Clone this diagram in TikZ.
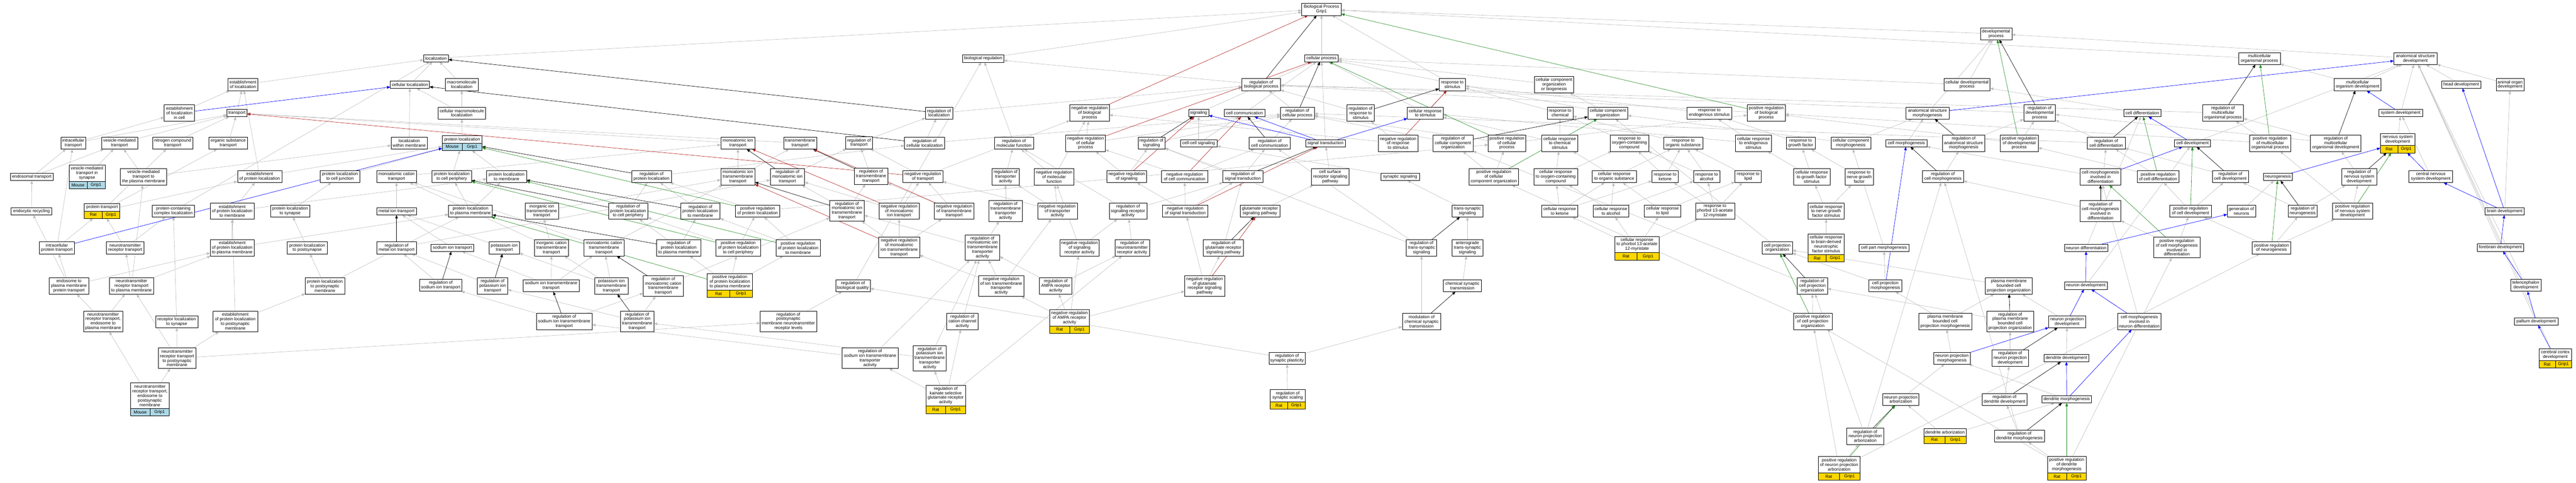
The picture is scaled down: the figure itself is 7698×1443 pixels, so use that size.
\documentclass[tikz,border=0pt]{standalone}
\usepackage{fontspec}
\setmainfont{Liberation Sans}
\usetikzlibrary{arrows.meta,fit,calc}
\definecolor{colorisa}  {RGB}{190,190,190}
\definecolor{colorneg}  {RGB}{178, 34, 34}
\definecolor{colorpos}  {RGB}{ 34,139, 34}
\definecolor{colorpart} {RGB}{  0,  0,255}
\definecolor{colorrat}  {RGB}{255,215,  0}
\definecolor{colormouse}{RGB}{173,216,230}
\pgfdeclarelayer{background}
\pgfsetlayers{background,main}

% species / gene row under an annotated term
\newcommand{\generow}[3]{%
    \path let \p1=(#1-t.south west), \p2=(#1-t.south east) in
        node[tagcell,fill=#3,anchor=north west,minimum width={(\x2-\x1)/2}] (#1-sp) at (\p1) {#2}
        node[tagcell,fill=#3,anchor=north east,minimum width={(\x2-\x1)/2}] (#1-gn) at (\p2) {Grip1};
    \node[fit=(#1-t)(#1-sp)(#1-gn),inner sep=0pt] (#1) {};
}

\begin{document}
\begin{tikzpicture}[
    x=1pt, y=-1pt,
    font={\fontsize{12.9}{13.6}\selectfont},
    term/.style={draw,line width=0.9pt,fill=white,align=center,inner xsep=4pt,inner ysep=2pt,outer sep=0pt},
    ln1/.style={term,minimum height=22},
    ln2/.style={term,minimum height=36},
    ln3/.style={term,minimum height=49},
    ln4/.style={term,minimum height=62},
    ln5/.style={term,minimum height=76},
    tagcell/.style={draw,line width=0.9pt,inner sep=0pt,outer sep=0pt,minimum height=22},
    isa/.style={draw=colorisa,line width=1pt,-{Triangle[length=10pt,width=8pt]}},
    reg/.style={isa,draw=black},
    negreg/.style={isa,draw=colorneg},
    posreg/.style={isa,draw=colorpos},
    partof/.style={isa,draw=colorpart}
]

    \useasboundingbox (0, 0) rectangle (7698, 1443);

    \node[ln2,minimum width=118] (bp) at (3949, 28) {Biological Process\\Grip1};
    \node[ln2,minimum width=94] (devproc) at (5965, 101) {developmental\\process};

    \node[ln1,minimum width=74] (loc) at (1303, 174) {localization};
    \node[ln1,minimum width=124] (bioreg) at (2938, 175) {biological regulation};
    \node[ln1,minimum width=100] (cellproc) at (3949, 174) {cellular process};
    \node[ln2,minimum width=124] (mcop) at (6752, 175) {multicellular\\organismal process};
    \node[ln2,minimum width=129] (asdev) at (7218, 175) {anatomical structure\\development};

    \node[ln2,minimum width=90] (estloc) at (726, 253) {establishment\\of localization};
    \node[ln1,minimum width=117] (cellloc) at (1225, 253) {cellular localization};
    \node[ln2,minimum width=99] (macroloc) at (1380, 253) {macromolecule\\localization};
    \node[ln2,minimum width=115] (regbp) at (3769, 253) {regulation of\\biological process};
    \node[ln2,minimum width=79] (respstim) at (4340, 253) {response to\\stimulus};
    \node[ln3,minimum width=118] (ccob) at (4644, 253) {cellular component\\organization\\or biogenesis};
    \node[ln2,minimum width=138] (celldevproc) at (5878, 253) {cellular developmental\\process};
    \node[ln2,minimum width=141] (mcodev) at (7045, 253) {multicellular\\organism development};
    \node[ln1,minimum width=116] (headdev) at (7355, 253) {head development};
    \node[ln2,minimum width=84] (organdev) at (7501, 253) {animal organ\\development};

    \node[ln3,minimum width=91] (estloccell) at (536, 338) {establishment\\of localization\\in cell};
    \node[ln1,minimum width=60] (transport) at (708, 338) {transport};
    \node[ln2,minimum width=143] (cmacroloc) at (1380, 338) {cellular macromolecule\\localization};
    \node[ln2,minimum width=81] (regloc) at (2806, 338) {regulation of\\localization};
    \node[ln3,minimum width=118] (negregbp) at (3256, 338) {negative regulation\\of biological\\process};
    \node[ln1,minimum width=61] (signaling) at (3582, 338) {signaling};
    \node[ln1,minimum width=122] (cellcomm) at (3719, 338) {cell communication};
    \node[ln2,minimum width=101] (regcp) at (3877, 338) {regulation of\\cellular process};
    \node[ln3,minimum width=81] (regresp) at (4066, 338) {regulation of\\response to\\stimulus};
    \node[ln2,minimum width=107] (cellresp) at (4259, 338) {cellular response\\to stimulus};
    \node[ln2,minimum width=77] (respchem) at (4662, 338) {response to\\chemical};
    \node[ln2,minimum width=119] (cco) at (4805, 338) {cellular component\\organization};
    \node[ln2,minimum width=133] (respendo) at (5108, 338) {response to\\endogenous stimulus};
    \node[ln3,minimum width=114] (posregbp) at (5278, 338) {positive regulation\\of biological\\process};
    \node[ln2,minimum width=128] (asmorph) at (5760, 338) {anatomical structure\\morphogenesis};
    \node[ln3,minimum width=95] (regdev) at (6095, 338) {regulation of\\developmental\\process};
    \node[ln1,minimum width=110] (celldiff) at (6402, 338) {cell differentiation};
    \node[ln3,minimum width=123] (regmcop) at (6643, 338) {regulation of\\multicellular\\organismal process};
    \node[ln1,minimum width=131] (sysdev) at (7174, 338) {system development};

    \node[ln2,minimum width=75] (intratr) at (219, 428) {intracellular\\transport};
    \node[ln2,minimum width=108] (vesictr) at (357, 428) {vesicle-mediated\\transport};
    \node[ln2,minimum width=119] (nitrotr) at (516, 428) {nitrogen compound\\transport};
    \node[ln2,minimum width=116] (orgtr) at (682, 428) {organic substance\\transport};
    \node[ln2,minimum width=108] (locmem) at (1223, 428) {localization\\within membrane};
    \node[ln1,minimum width=119] (protloc-t) at (1381, 417) {protein localization};
    \generow{protloc}{Mouse}{colormouse}
    \node[ln2,minimum width=102] (monoiontr) at (2205, 428) {monoatomic ion\\transport};
    \node[ln2,minimum width=99] (tmtr) at (2391, 428) {transmembrane\\transport};
    \node[ln2,minimum width=80] (regtr) at (2567, 427) {regulation of\\transport};
    \node[ln2,minimum width=120] (regcellloc) at (2763, 428) {regulation of\\cellular localization};
    \node[ln2,minimum width=117] (regmf) at (3030, 428) {regulation of\\molecular function};
    \node[ln3,minimum width=118] (negregcp) at (3244, 428) {negative regulation\\of cellular\\process};
    \node[ln2,minimum width=80] (regsig) at (3441, 428) {regulation of\\signaling};
    \node[ln1,minimum width=110] (ccsig) at (3582, 428) {cell-cell signaling};
    \node[ln2,minimum width=122] (regcc) at (3794, 428) {regulation of\\cell communication};
    \node[ln1,minimum width=118] (sigtrans) at (3961, 428) {signal transduction};
    \node[ln3,minimum width=119] (negregresp) at (4178, 428) {negative regulation\\of response\\to stimulus};
    \node[ln3,minimum width=119] (regcco) at (4342, 428) {regulation of\\cellular component\\organization};
    \node[ln3,minimum width=111] (posregcp) at (4503, 428) {positive regulation\\of cellular\\process};
    \node[ln3,minimum width=107] (cellrespchem) at (4661, 428) {cellular response\\to chemical\\stimulus};
    \node[ln3,minimum width=116] (respoxy) at (4869, 428) {response to\\oxygen-containing\\compound};
    \node[ln2,minimum width=116] (resporg) at (5030, 428) {response to\\organic substance};
    \node[ln3,minimum width=108] (cellrespendo) at (5240, 428) {cellular response\\to endogenous\\stimulus};
    \node[ln2,minimum width=86] (respgf) at (5381, 428) {response to\\growth factor};
    \node[ln2,minimum width=119] (ccmorph) at (5531, 428) {cellular component\\morphogenesis};
    \node[ln1,minimum width=122] (cellmorph) at (5697, 428) {cell morphogenesis};
    \node[ln3,minimum width=127] (regasmorph) at (5868, 428) {regulation of\\anatomical structure\\morphogenesis};
    \node[ln3,minimum width=114] (posregdev) at (6034, 428) {positive regulation\\of developmental\\process};
    \node[ln2,minimum width=113] (regcelldiff) at (6294, 428) {regulation of\\cell differentiation};
    \node[ln1,minimum width=108] (celldev) at (6552, 428) {cell development};
    \node[ln3,minimum width=123] (posregmcop) at (6784, 428) {positive regulation\\of multicellular\\organismal process};
    \node[ln3,minimum width=151] (regmcodev) at (6980, 428) {regulation of\\multicellular\\organismal development};
    \node[ln2,minimum width=103] (nsdev-t) at (7165, 417) {nervous system\\development};
    \generow{nsdev}{Rat}{colorrat}

    \node[ln1,minimum width=128] (endotr) at (95, 529) {endosomal transport};
    \node[ln3,minimum width=108] (vtsyn-t) at (260, 518) {vesicle-mediated\\transport in\\synapse};
    \generow{vtsyn}{Mouse}{colormouse}
    \node[ln3,minimum width=139] (vtpm) at (429, 529) {vesicle-mediated\\transport to\\the plasma membrane};
    \node[ln2,minimum width=133] (estprotloc) at (776, 528) {establishment\\of protein localization};
    \node[ln2,minimum width=118] (plcj) at (1016, 528) {protein localization\\to cell junction};
    \node[ln2,minimum width=119] (catr) at (1185, 528) {monoatomic cation\\transport};
    \node[ln2,minimum width=118] (plcp) at (1350, 528) {protein localization\\to cell periphery};
    \node[ln2,minimum width=119] (plmem) at (1514, 528) {protein localization\\to membrane};
    \node[ln2,minimum width=119] (regprotloc) at (1947, 528) {regulation of\\protein localization};
    \node[ln3,minimum width=102] (monoiontmtr) at (2205, 529) {monoatomic ion\\transmembrane\\transport};
    \node[ln3,minimum width=103] (regmonoiontr) at (2353, 529) {regulation of\\monoatomic ion\\transport};
    \node[ln3,minimum width=100] (regtmtr) at (2603, 527) {regulation of\\transmembrane\\transport};
    \node[ln2,minimum width=119] (negregtr) at (2758, 528) {negative regulation\\of transport};
    \node[ln3,minimum width=81] (regtra) at (3005, 529) {regulation of\\transporter\\activity};
    \node[ln3,minimum width=119] (negregmf) at (3150, 529) {negative regulation\\of molecular\\function};
    \node[ln2,minimum width=119] (negregsig) at (3367, 528) {negative regulation\\of signaling};
    \node[ln2,minimum width=138] (negregcc) at (3540, 528) {negative regulation\\of cell communication};
    \node[ln2,minimum width=119] (regst) at (3714, 528) {regulation of\\signal transduction};
    \node[ln3,minimum width=112] (csrsp) at (3975, 529) {cell surface\\receptor signaling\\pathway};
    \node[ln1,minimum width=116] (synsig) at (4184, 529) {synaptic signaling};
    \node[ln3,minimum width=148] (posregcco) at (4464, 529) {positive regulation\\of cellular\\component organization};
    \node[ln3,minimum width=131] (crspoxy) at (4649, 529) {cellular response\\to oxygen-containing\\compound};
    \node[ln2,minimum width=131] (crsporg) at (4824, 528) {cellular response\\to organic substance};
    \node[ln2,minimum width=79] (respket) at (4976, 528) {response to\\ketone};
    \node[ln2,minimum width=79] (respalc) at (5100, 528) {response to\\alcohol};
    \node[ln2,minimum width=79] (resplip) at (5224, 528) {response to\\lipid};
    \node[ln3,minimum width=109] (crspgf) at (5414, 529) {cellular response\\to growth factor\\stimulus};
    \node[ln3,minimum width=84] (respngf) at (5556, 529) {response to\\nerve growth\\factor};
    \node[ln2,minimum width=123] (regcellmorph) at (5806, 528) {regulation of\\cell morphogenesis};
    \node[ln3,minimum width=121] (cmid) at (6277, 529) {cell morphogenesis\\involved in\\differentiation};
    \node[ln2,minimum width=126] (posregcelldiff) at (6449, 528) {positive regulation\\of cell differentiation};
    \node[ln2,minimum width=107] (regcelldev) at (6665, 528) {regulation of\\cell development};
    \node[ln1,minimum width=87] (neurogen) at (6807, 529) {neurogenesis};
    \node[ln3,minimum width=104] (regnsdev) at (7050, 529) {regulation of\\nervous system\\development};
    \node[ln2,minimum width=131] (cnsdev) at (7264, 528) {central nervous\\system development};

    \node[ln1,minimum width=122] (endorec) at (94, 632) {endocytic recycling};
    \node[ln1,minimum width=106] (prottr-t) at (305, 620) {protein transport};
    \generow{prottr}{Rat}{colorrat}
    \node[ln2,minimum width=127] (pccloc) at (518, 631) {protein-containing\\complex localization};
    \node[ln3,minimum width=132] (estplmem) at (694, 631) {establishment\\of protein localization\\to membrane};
    \node[ln2,minimum width=118] (plsyn) at (867, 631) {protein localization\\to synapse};
    \node[ln1,minimum width=119] (metaltr) at (1185, 632) {metal ion transport};
    \node[ln2,minimum width=131] (plpm) at (1406, 631) {protein localization\\to plasma membrane};
    \node[ln3,minimum width=100] (inoiontmtr) at (1619, 631) {inorganic ion\\transmembrane\\transport};
    \node[ln3,minimum width=118] (regplcp) at (1877, 631) {regulation of\\protein localization\\to cell periphery};
    \node[ln3,minimum width=118] (regplmem) at (2093, 631) {regulation of\\protein localization\\to membrane};
    \node[ln2,minimum width=133] (posregprotloc) at (2264, 631) {positive regulation\\of protein localization};
    \node[ln4,minimum width=103] (regmonoiontmtr) at (2531, 630) {regulation of\\monoatomic ion\\transmembrane\\transport};
    \node[ln3,minimum width=119] (negregmonoiontr) at (2687, 631) {negative regulation\\of monoatomic\\ion transport};
    \node[ln3,minimum width=118] (negregtmtr) at (2851, 631) {negative regulation\\of transmembrane\\transport};
    \node[ln4,minimum width=100] (regtmtra) at (3005, 631) {regulation of\\transmembrane\\transporter\\activity};
    \node[ln3,minimum width=119] (negregtra) at (3160, 631) {negative regulation\\of transporter\\activity};
    \node[ln3,minimum width=113] (regsra) at (3371, 631) {regulation of\\signaling receptor\\activity};
    \node[ln2,minimum width=135] (negregst) at (3542, 631) {negative regulation\\of signal transduction};
    \node[ln2,minimum width=118] (glursp) at (3765, 631) {glutamate receptor\\signaling pathway};
    \node[ln2,minimum width=93] (tssig) at (4385, 631) {trans-synaptic\\signaling};
    \node[ln2,minimum width=108] (crspket) at (4661, 631) {cellular response\\to ketone};
    \node[ln2,minimum width=107] (crspalc) at (4814, 631) {cellular response\\to alcohol};
    \node[ln2,minimum width=108] (crsplip) at (4968, 631) {cellular response\\to lipid};
    \node[ln3,minimum width=117] (resppma) at (5125, 631) {response to\\phorbol 13-acetate\\12-myristate};
    \node[ln3,minimum width=108] (crspngf) at (5457, 631) {cellular response\\to nerve growth\\factor stimulus};
    \node[ln4,minimum width=121] (regcmid) at (6277, 631) {regulation of\\cell morphogenesis\\involved in\\differentiation};
    \node[ln2,minimum width=125] (posregcelldev) at (6546, 631) {positive regulation\\of cell development};
    \node[ln2,minimum width=85] (genneur) at (6698, 631) {generation of\\neurons};
    \node[ln2,minimum width=86] (regneurogen) at (6881, 631) {regulation of\\neurogenesis};
    \node[ln3,minimum width=119] (posregnsdev) at (7030, 631) {positive regulation\\of nervous system\\development};
    \node[ln1,minimum width=117] (braindev) at (7485, 632) {brain development};

    \node[ln2,minimum width=104] (intraprottr) at (170, 741) {intracellular\\protein transport};
    \node[ln2,minimum width=112] (ntrtr) at (374, 741) {neurotransmitter\\receptor transport};
    \node[ln3,minimum width=132] (estplpm) at (694, 741) {establishment\\of protein localization\\to plasma membrane};
    \node[ln2,minimum width=119] (plpsyn) at (918, 741) {protein localization\\to postsynapse};
    \node[ln2,minimum width=119] (regmetaltr) at (1185, 741) {regulation of\\metal ion transport};
    \node[ln1,minimum width=128] (natr) at (1352, 741) {sodium ion transport};
    \node[ln2,minimum width=90] (ktr) at (1507, 741) {potassium ion\\transport};
    \node[ln3,minimum width=101] (inocattmtr) at (1648, 741) {inorganic cation\\transmembrane\\transport};
    \node[ln3,minimum width=120] (cattmtr) at (1805, 741) {monoatomic cation\\transmembrane\\transport};
    \node[ln3,minimum width=132] (regplpm) at (2028, 741) {regulation of\\protein localization\\to plasma membrane};
    \node[ln3,minimum width=134] (posregplcp) at (2206, 741) {positive regulation\\of protein localization\\to cell periphery};
    \node[ln3,minimum width=133] (posregplmem) at (2385, 741) {positive regulation\\of protein localization\\to membrane};
    \node[ln4,minimum width=122] (negregmonoiontmtr) at (2687, 740) {negative regulation\\of monoatomic\\ion transmembrane\\transport};
    \node[ln5,minimum width=103] (regmonoiontmtra) at (2936, 740) {regulation of\\monoatomic ion\\transmembrane\\transporter\\activity};
    \node[ln3,minimum width=118] (negregsra) at (3226, 741) {negative regulation\\of signaling\\receptor activity};
    \node[ln3,minimum width=103] (regntra) at (3383, 741) {regulation of\\neurotransmitter\\receptor activity};
    \node[ln3,minimum width=120] (regglursp) at (3656, 741) {regulation of\\glutamate receptor\\signaling pathway};
    \node[ln3,minimum width=91] (regtssig) at (4248, 741) {regulation of\\trans-synaptic\\signaling};
    \node[ln3,minimum width=93] (antssig) at (4385, 741) {anterograde\\trans-synaptic\\signaling};
    \node[ln3,minimum width=132] (crsppma-t) at (4892, 731) {cellular response\\to phorbol 13-acetate\\12-myristate};
    \generow{crsppma}{Rat}{colorrat}
    \node[ln4,minimum width=108] (crspbdnf-t) at (5457, 730) {cellular response\\to brain-derived\\neurotrophic\\factor stimulus};
    \generow{crspbdnf}{Rat}{colorrat}
    \node[ln2,minimum width=91] (cpo) at (5311, 741) {cell projection\\organization};
    \node[ln1,minimum width=148] (cpartmorph) at (5630, 741) {cell part morphogenesis};
    \node[ln1,minimum width=130] (neurdiff) at (6234, 741) {neuron differentiation};
    \node[ln4,minimum width=138] (posregcmid) at (6505, 740) {positive regulation\\of cell morphogenesis\\involved in\\differentiation};
    \node[ln2,minimum width=115] (posregneurogen) at (6788, 741) {positive regulation\\of neurogenesis};
    \node[ln1,minimum width=139] (forebraindev) at (7472, 740) {forebrain development};

    \node[ln3,minimum width=118] (e2pm) at (206, 855) {endosome to\\plasma membrane\\protein transport};
    \node[ln3,minimum width=131] (ntrpm) at (393, 855) {neurotransmitter\\receptor transport\\to plasma membrane};
    \node[ln3,minimum width=118] (plpsm) at (971, 855) {protein localization\\to postsynaptic\\membrane};
    \node[ln2,minimum width=127] (regnatr) at (1317, 853) {regulation of\\sodium ion transport};
    \node[ln3,minimum width=91] (regktr) at (1472, 855) {regulation of\\potassium ion\\transport};
    \node[ln2,minimum width=167] (natmtr) at (1647, 854) {sodium ion transmembrane\\transport};
    \node[ln3,minimum width=99] (ktmtr) at (1827, 855) {potassium ion\\transmembrane\\transport};
    \node[ln4,minimum width=120] (regcattmtr) at (1982, 855) {regulation of\\monoatomic cation\\transmembrane\\transport};
    \node[ln3,minimum width=135] (posregplpm-t) at (2181, 843) {positive regulation\\of protein localization\\to plasma membrane};
    \generow{posregplpm}{Rat}{colorrat}
    \node[ln2,minimum width=103] (regbq) at (2549, 854) {regulation of\\biological quality};
    \node[ln4,minimum width=135] (negregiontmtra) at (2992, 855) {negative regulation\\of ion transmembrane\\transporter\\activity};
    \node[ln3,minimum width=97] (regampa) at (3155, 855) {regulation of\\AMPA receptor\\activity};
    \node[ln4,minimum width=120] (negregglursp) at (3600, 855) {negative regulation\\of glutamate\\receptor signaling\\pathway};
    \node[ln2,minimum width=114] (cst) at (4370, 854) {chemical synaptic\\transmission};
    \node[ln3,minimum width=91] (regcpo) at (5416, 855) {regulation of\\cell projection\\organization};
    \node[ln2,minimum width=99] (cpmorph) at (5634, 854) {cell projection\\morphogenesis};
    \node[ln3,minimum width=140] (pmbcpo) at (6003, 855) {plasma membrane\\bounded cell\\projection organization};
    \node[ln1,minimum width=128] (neurdev) at (6233, 854) {neuron development};
    \node[ln2,minimum width=91] (telendev) at (7548, 853) {telencephalon\\development};

    \node[ln4,minimum width=117] (ntre2pm) at (308, 961) {neurotransmitter\\receptor transport,\\endosome to\\plasma membrane};
    \node[ln2,minimum width=126] (recsyn) at (528, 962) {receptor localization\\to synapse};
    \node[ln4,minimum width=133] (estplpsm) at (703, 961) {establishment\\of protein localization\\to postsynaptic\\membrane};
    \node[ln3,minimum width=167] (regnatmtr) at (1686, 961) {regulation of\\sodium ion transmembrane\\transport};
    \node[ln4,minimum width=100] (regktmtr) at (1904, 961) {regulation of\\potassium ion\\transmembrane\\transport};
    \node[ln4,minimum width=169] (regpsmntr) at (2356, 961) {regulation of\\postsynaptic\\membrane neurotransmitter\\receptor levels};
    \node[ln3,minimum width=94] (regcatchan) at (2876, 961) {regulation of\\cation channel\\activity};
    \node[ln3,minimum width=118] (negregampa-t) at (3196, 950) {negative regulation\\of AMPA receptor\\activity};
    \generow{negregampa}{Rat}{colorrat}
    \node[ln3,minimum width=115] (modcst) at (4248, 961) {modulation of\\chemical synaptic\\transmission};
    \node[ln3,minimum width=115] (posregcpo) at (5417, 961) {positive regulation\\of cell projection\\organization};
    \node[ln3,minimum width=158] (pmbcpmorph) at (5813, 961) {plasma membrane\\bounded cell\\projection morphogenesis};
    \node[ln4,minimum width=139] (regpmbcpo) at (6007, 961) {regulation of\\plasma membrane\\bounded cell\\projection organization};
    \node[ln2,minimum width=110] (neurprojdev) at (6177, 962) {neuron projection\\development};
    \node[ln3,minimum width=130] (cmind) at (6393, 961) {cell morphogenesis\\involved in\\neuron differentiation};
    \node[ln1,minimum width=130] (palliumdev) at (7579, 961) {pallium development};

    \node[ln4,minimum width=112] (ntrpsm) at (529, 1071) {neurotransmitter\\receptor transport\\to postsynaptic\\membrane};
    \node[ln4,minimum width=167] (regnatmtra) at (2600, 1071) {regulation of\\sodium ion transmembrane\\transporter\\activity};
    \node[ln5,minimum width=99] (regktmtra) at (2778, 1071) {regulation of\\potassium ion\\transmembrane\\transporter\\activity};
    \node[ln2,minimum width=108] (regsynplast) at (3846, 1071) {regulation of\\synaptic plasticity};
    \node[ln2,minimum width=109] (neurprojmorph) at (5833, 1071) {neuron projection\\morphogenesis};
    \node[ln3,minimum width=110] (regneurprojdev) at (6007, 1071) {regulation of\\neuron projection\\development};
    \node[ln1,minimum width=133] (dendev) at (6175, 1071) {dendrite development};
    \node[ln2,minimum width=98] (cctxdev-t) at (7636, 1060) {cerebral cortex\\development};
    \generow{cctxdev}{Rat}{colorrat}

    \node[ln5,minimum width=116] (ntre2psm-t) at (448, 1183) {neurotransmitter\\receptor transport,\\endosome to\\postsynaptic\\membrane};
    \generow{ntre2psm}{Mouse}{colormouse}
    \node[ln4,minimum width=119] (regkainate-t) at (2826, 1183) {regulation of\\kainate selective\\glutamate receptor\\activity};
    \generow{regkainate}{Rat}{colorrat}
    \node[ln2,minimum width=104] (regsynscal-t) at (3848, 1183) {regulation of\\synaptic scaling};
    \generow{regsynscal}{Rat}{colorrat}
    \node[ln2,minimum width=109] (neurprojarb) at (5680, 1194) {neuron projection\\arborization};
    \node[ln2,minimum width=134] (regdendev) at (5990, 1194) {regulation of\\dendrite development};
    \node[ln1,minimum width=148] (denmorph) at (6176, 1194) {dendrite morphogenesis};

    \node[ln3,minimum width=110] (regneurprojarb) at (5574, 1304) {regulation of\\neuron projection\\arborization};
    \node[ln1,minimum width=126] (denarb-t) at (5812, 1293) {dendrite arborization};
    \generow{denarb}{Rat}{colorrat}
    \node[ln2,minimum width=149] (regdenmorph) at (6035, 1304) {regulation of\\dendrite morphogenesis};

    \node[ln3,minimum width=124] (posregneurprojarb-t) at (5496, 1389) {positive regulation\\of neuron projection\\arborization};
    \generow{posregneurprojarb}{Rat}{colorrat}
    \node[ln3,minimum width=116] (posregdenmorph-t) at (6176, 1389) {positive regulation\\of dendrite\\morphogenesis};
    \generow{posregdenmorph}{Rat}{colorrat}

    \begin{pgfonlayer}{background}
    \draw[isa] (loc) -- (bp);
    \draw[isa] (cellloc) -- (loc);
    \draw[isa] (cellproc) -- (bp);
    \draw[isa] (bioreg) -- (bp);
    \draw[isa] (devproc) -- (bp);
    \draw[isa] (mcop) -- (bp);
    \draw[isa] (respstim) -- (bp);
    \draw[isa] (ccob) -- (cellproc);
    \draw[isa] (estloc) -- (loc);
    \draw[isa] (macroloc) -- (loc);
    \draw[isa] (regbp) -- (bioreg);
    \draw[isa] (celldevproc) -- (devproc);
    \draw[isa] (celldevproc) -- (cellproc);
    \draw[isa] (mcodev) -- (mcop);
    \draw[isa] (mcodev) -- (asdev);
    \draw[isa] (headdev) -- (asdev);
    \draw[isa] (organdev) -- (asdev);
    \draw[isa] (asdev) -- (devproc);
    \draw[isa] (estloccell) -- (estloc);
    \draw[isa] (transport) -- (estloc);
    \draw[isa] (cmacroloc) -- (macroloc);
    \draw[isa] (cmacroloc) -- (cellloc);
    \draw[isa] (regloc) -- (regbp);
    \draw[isa] (negregbp) -- (regbp);
    \draw[isa] (signaling) -- (cellproc);
    \draw[isa] (cellcomm) -- (cellproc);
    \draw[isa] (regcp) -- (regbp);
    \draw[isa] (regresp) -- (regbp);
    \draw[isa] (cellresp) -- (respstim);
    \draw[isa] (cellresp) -- (cellproc);
    \draw[isa] (respchem) -- (respstim);
    \draw[isa] (cco) -- (ccob);
    \draw[isa] (cco) -- (cellproc);
    \draw[isa] (respendo) -- (respstim);
    \draw[isa] (posregbp) -- (regbp);
    \draw[isa] (asmorph) -- (devproc);
    \draw[isa] (regdev) -- (regbp);
    \draw[isa] (celldiff) -- (celldevproc);
    \draw[isa] (regmcop) -- (regbp);
    \draw[isa] (sysdev) -- (asdev);
    \draw[isa] (intratr) -- (transport);
    \draw[isa] (intratr) -- (estloccell);
    \draw[isa] (vesictr) -- (transport);
    \draw[isa] (nitrotr) -- (transport);
    \draw[isa] (orgtr) -- (transport);
    \draw[isa] (locmem) -- (cellloc);
    \draw[isa] (protloc) -- (cmacroloc);
    \draw[isa] (monoiontr) -- (transport);
    \draw[isa] (tmtr) -- (transport);
    \draw[isa] (regtr) -- (regloc);
    \draw[isa] (regcellloc) -- (regloc);
    \draw[isa] (regcellloc) -- (regcp);
    \draw[isa] (regmf) -- (bioreg);
    \draw[isa] (negregcp) -- (regcp);
    \draw[isa] (negregcp) -- (negregbp);
    \draw[isa] (regsig) -- (regcp);
    \draw[isa] (ccsig) -- (signaling);
    \draw[isa] (ccsig) -- (cellcomm);
    \draw[isa] (regcc) -- (regcp);
    \draw[isa] (sigtrans) -- (cellproc);
    \draw[isa] (negregresp) -- (regresp);
    \draw[isa] (negregresp) -- (negregbp);
    \draw[isa] (regcco) -- (regcp);
    \draw[isa] (posregcp) -- (regcp);
    \draw[isa] (posregcp) -- (posregbp);
    \draw[isa] (cellrespchem) -- (respchem);
    \draw[isa] (cellrespchem) -- (cellresp);
    \draw[isa] (respoxy) -- (respchem);
    \draw[isa] (resporg) -- (respchem);
    \draw[isa] (cellrespendo) -- (respendo);
    \draw[isa] (cellrespendo) -- (cellresp);
    \draw[isa] (respgf) -- (respendo);
    \draw[isa] (ccmorph) -- (asmorph);
    \draw[isa] (ccmorph) -- (cco);
    \draw[isa] (cellmorph) -- (asmorph);
    \draw[isa] (regasmorph) -- (regdev);
    \draw[isa] (posregdev) -- (regdev);
    \draw[isa] (posregdev) -- (posregbp);
    \draw[isa] (regcelldiff) -- (regdev);
    \draw[isa] (regcelldiff) -- (regcp);
    \draw[isa] (celldev) -- (asdev);
    \draw[isa] (posregmcop) -- (regmcop);
    \draw[isa] (posregmcop) -- (posregbp);
    \draw[isa] (regmcodev) -- (regmcop);
    \draw[isa] (regmcodev) -- (regdev);
    \draw[isa] (nsdev) -- (sysdev);
    \draw[isa] (endotr) -- (intratr);
    \draw[isa] (endotr) -- (vesictr);
    \draw[isa] (vtsyn) -- (vesictr);
    \draw[isa] (vtpm) -- (vesictr);
    \draw[isa] (vtpm) -- (locmem);
    \draw[isa] (estprotloc) -- (estloc);
    \draw[isa] (estprotloc) -- (protloc);
    \draw[isa] (plcj) -- (protloc);
    \draw[isa] (catr) -- (monoiontr);
    \draw[isa] (plcp) -- (protloc);
    \draw[isa] (plmem) -- (protloc);
    \draw[isa] (monoiontmtr) -- (monoiontr);
    \draw[isa] (monoiontmtr) -- (tmtr);
    \draw[isa] (regmonoiontr) -- (regtr);
    \draw[isa] (regtmtr) -- (regtr);
    \draw[isa] (regprotloc) -- (regcellloc);
    \draw[isa] (negregtr) -- (regtr);
    \draw[isa] (negregtr) -- (negregbp);
    \draw[isa] (regtra) -- (regmf);
    \draw[isa] (negregmf) -- (regmf);
    \draw[isa] (negregmf) -- (negregbp);
    \draw[isa] (negregsig) -- (regsig);
    \draw[isa] (negregsig) -- (negregcp);
    \draw[isa] (negregcc) -- (regcc);
    \draw[isa] (negregcc) -- (negregcp);
    \draw[isa] (regst) -- (regcc);
    \draw[isa] (regst) -- (regsig);
    \draw[isa] (csrsp) -- (sigtrans);
    \draw[isa] (synsig) -- (ccsig);
    \draw[isa] (posregcco) -- (regcco);
    \draw[isa] (posregcco) -- (posregcp);
    \draw[isa] (crspoxy) -- (respoxy);
    \draw[isa] (crspoxy) -- (cellrespchem);
    \draw[isa] (crsporg) -- (resporg);
    \draw[isa] (crsporg) -- (cellrespchem);
    \draw[isa] (respket) -- (resporg);
    \draw[isa] (respket) -- (respoxy);
    \draw[isa] (respalc) -- (resporg);
    \draw[isa] (respalc) -- (respoxy);
    \draw[isa] (resplip) -- (resporg);
    \draw[isa] (crspgf) -- (respgf);
    \draw[isa] (crspgf) -- (cellrespendo);
    \draw[isa] (respngf) -- (respgf);
    \draw[isa] (regcellmorph) -- (regasmorph);
    \draw[isa] (cmid) -- (cellmorph);
    \draw[isa] (posregcelldiff) -- (regcelldiff);
    \draw[isa] (posregcelldiff) -- (posregdev);
    \draw[isa] (regcelldev) -- (regcelldiff);
    \draw[isa] (regnsdev) -- (regmcodev);
    \draw[isa] (cnsdev) -- (sysdev);
    \draw[isa] (endorec) -- (endotr);
    \draw[isa] (prottr) -- (nitrotr);
    \draw[isa] (prottr) -- (orgtr);
    \draw[isa] (prottr) -- (estprotloc);
    \draw[isa] (pccloc) -- (loc);
    \draw[isa] (estplmem) -- (estprotloc);
    \draw[isa] (estplmem) -- (plmem);
    \draw[isa] (plsyn) -- (plcj);
    \draw[isa] (metaltr) -- (catr);
    \draw[isa] (plpm) -- (plmem);
    \draw[isa] (plpm) -- (plcp);
    \draw[isa] (inoiontmtr) -- (monoiontmtr);
    \draw[isa] (regplcp) -- (regprotloc);
    \draw[isa] (regplmem) -- (regprotloc);
    \draw[isa] (posregprotloc) -- (regprotloc);
    \draw[isa] (posregprotloc) -- (posregcp);
    \draw[isa] (regmonoiontmtr) -- (regmonoiontr);
    \draw[isa] (regmonoiontmtr) -- (regtmtr);
    \draw[isa] (negregmonoiontr) -- (negregtr);
    \draw[isa] (negregmonoiontr) -- (regmonoiontr);
    \draw[isa] (negregtmtr) -- (negregtr);
    \draw[isa] (negregtmtr) -- (regtmtr);
    \draw[isa] (regtmtra) -- (regtra);
    \draw[isa] (negregtra) -- (regtra);
    \draw[isa] (negregtra) -- (negregmf);
    \draw[isa] (negregtra) -- (negregtr);
    \draw[isa] (regsra) -- (regmf);
    \draw[isa] (regsra) -- (regst);
    \draw[isa] (negregst) -- (regst);
    \draw[isa] (negregst) -- (negregsig);
    \draw[isa] (negregst) -- (negregcc);
    \draw[isa] (glursp) -- (csrsp);
    \draw[isa] (tssig) -- (synsig);
    \draw[isa] (crspket) -- (respket);
    \draw[isa] (crspket) -- (crspoxy);
    \draw[isa] (crspket) -- (crsporg);
    \draw[isa] (crspalc) -- (respalc);
    \draw[isa] (crspalc) -- (crsporg);
    \draw[isa] (crspalc) -- (crspoxy);
    \draw[isa] (crsplip) -- (resplip);
    \draw[isa] (crsplip) -- (crsporg);
    \draw[isa] (resppma) -- (respalc);
    \draw[isa] (resppma) -- (respket);
    \draw[isa] (resppma) -- (resplip);
    \draw[isa] (crspngf) -- (respngf);
    \draw[isa] (crspngf) -- (crspgf);
    \draw[isa] (regcmid) -- (regcellmorph);
    \draw[isa] (regcmid) -- (regcelldiff);
    \draw[isa] (posregcelldev) -- (regcelldev);
    \draw[isa] (posregcelldev) -- (posregcelldiff);
    \draw[isa] (genneur) -- (neurogen);
    \draw[isa] (regneurogen) -- (regnsdev);
    \draw[isa] (regneurogen) -- (regcelldev);
    \draw[isa] (posregnsdev) -- (regnsdev);
    \draw[isa] (posregnsdev) -- (posregmcop);
    \draw[isa] (braindev) -- (organdev);
    \draw[isa] (intraprottr) -- (prottr);
    \draw[isa] (intraprottr) -- (intratr);
    \draw[isa] (ntrtr) -- (prottr);
    \draw[isa] (ntrtr) -- (pccloc);
    \draw[isa] (estplpm) -- (estplmem);
    \draw[isa] (estplpm) -- (plpm);
    \draw[isa] (plpsyn) -- (plsyn);
    \draw[isa] (regmetaltr) -- (regmonoiontr);
    \draw[isa] (natr) -- (metaltr);
    \draw[isa] (ktr) -- (metaltr);
    \draw[isa] (inocattmtr) -- (inoiontmtr);
    \draw[isa] (inocattmtr) -- (catr);
    \draw[isa] (cattmtr) -- (catr);
    \draw[isa] (cattmtr) -- (monoiontmtr);
    \draw[isa] (regplpm) -- (regplcp);
    \draw[isa] (regplpm) -- (regplmem);
    \draw[isa] (posregplcp) -- (regplcp);
    \draw[isa] (posregplcp) -- (posregprotloc);
    \draw[isa] (posregplmem) -- (regplmem);
    \draw[isa] (posregplmem) -- (posregprotloc);
    \draw[isa] (negregmonoiontmtr) -- (negregmonoiontr);
    \draw[isa] (negregmonoiontmtr) -- (negregtmtr);
    \draw[isa] (negregmonoiontmtr) -- (regmonoiontmtr);
    \draw[isa] (regmonoiontmtra) -- (regtmtra);
    \draw[isa] (regmonoiontmtra) -- (regmonoiontmtr);
    \draw[isa] (negregsra) -- (regsra);
    \draw[isa] (negregsra) -- (negregmf);
    \draw[isa] (regntra) -- (regsra);
    \draw[isa] (regglursp) -- (regst);
    \draw[isa] (regtssig) -- (regcc);
    \draw[isa] (regtssig) -- (regsig);
    \draw[isa] (antssig) -- (tssig);
    \draw[isa] (crsppma) -- (resppma);
    \draw[isa] (crsppma) -- (crspket);
    \draw[isa] (crsppma) -- (crspalc);
    \draw[isa] (crsppma) -- (crsplip);
    \draw[isa] (crspbdnf) -- (crspngf);
    \draw[isa] (cpo) -- (cco);
    \draw[isa] (cpartmorph) -- (ccmorph);
    \draw[isa] (neurdiff) -- (celldiff);
    \draw[isa] (posregcmid) -- (regcmid);
    \draw[isa] (posregcmid) -- (posregcelldev);
    \draw[isa] (posregneurogen) -- (regneurogen);
    \draw[isa] (posregneurogen) -- (posregnsdev);
    \draw[isa] (posregneurogen) -- (posregcelldev);
    \draw[isa] (forebraindev) -- (asdev);
    \draw[isa] (e2pm) -- (intraprottr);
    \draw[isa] (e2pm) -- (endorec);
    \draw[isa] (e2pm) -- (estplpm);
    \draw[isa] (ntrpm) -- (ntrtr);
    \draw[isa] (ntrpm) -- (estplpm);
    \draw[isa] (ntrpm) -- (vtpm);
    \draw[isa] (plpsm) -- (plpsyn);
    \draw[isa] (plpsm) -- (plpm);
    \draw[isa] (regnatr) -- (regmetaltr);
    \draw[isa] (regktr) -- (regmetaltr);
    \draw[isa] (natmtr) -- (natr);
    \draw[isa] (natmtr) -- (inocattmtr);
    \draw[isa] (natmtr) -- (cattmtr);
    \draw[isa] (ktmtr) -- (ktr);
    \draw[isa] (ktmtr) -- (cattmtr);
    \draw[isa] (ktmtr) -- (inocattmtr);
    \draw[isa] (regcattmtr) -- (regmonoiontmtr);
    \draw[isa] (posregplpm) -- (regplpm);
    \draw[isa] (posregplpm) -- (posregplcp);
    \draw[isa] (posregplpm) -- (posregplmem);
    \draw[isa] (regbq) -- (bioreg);
    \draw[isa] (negregiontmtra) -- (regmonoiontmtra);
    \draw[isa] (negregiontmtra) -- (negregtra);
    \draw[isa] (negregiontmtra) -- (negregmonoiontmtr);
    \draw[isa] (regampa) -- (regntra);
    \draw[isa] (regampa) -- (regmonoiontmtra);
    \draw[isa] (negregglursp) -- (regglursp);
    \draw[isa] (negregglursp) -- (negregst);
    \draw[isa] (cst) -- (antssig);
    \draw[isa] (regcpo) -- (regcco);
    \draw[isa] (cpmorph) -- (cpartmorph);
    \draw[isa] (cpmorph) -- (cpo);
    \draw[isa] (pmbcpo) -- (cpo);
    \draw[isa] (neurdev) -- (celldev);
    \draw[isa] (telendev) -- (asdev);
    \draw[isa] (ntre2pm) -- (e2pm);
    \draw[isa] (ntre2pm) -- (ntrpm);
    \draw[isa] (recsyn) -- (pccloc);
    \draw[isa] (estplpsm) -- (estplmem);
    \draw[isa] (estplpsm) -- (plpsm);
    \draw[isa] (regnatmtr) -- (regnatr);
    \draw[isa] (regnatmtr) -- (regcattmtr);
    \draw[isa] (regktmtr) -- (regktr);
    \draw[isa] (regktmtr) -- (regcattmtr);
    \draw[isa] (regpsmntr) -- (regbq);
    \draw[isa] (regcatchan) -- (regmonoiontmtra);
    \draw[isa] (negregampa) -- (regampa);
    \draw[isa] (negregampa) -- (negregiontmtra);
    \draw[isa] (negregampa) -- (negregsra);
    \draw[isa] (negregampa) -- (negregglursp);
    \draw[isa] (modcst) -- (regtssig);
    \draw[isa] (posregcpo) -- (regcpo);
    \draw[isa] (posregcpo) -- (posregcco);
    \draw[isa] (pmbcpmorph) -- (cpmorph);
    \draw[isa] (pmbcpmorph) -- (pmbcpo);
    \draw[isa] (regpmbcpo) -- (regcpo);
    \draw[isa] (neurprojdev) -- (pmbcpo);
    \draw[isa] (cmind) -- (cmid);
    \draw[isa] (palliumdev) -- (asdev);
    \draw[isa] (ntrpsm) -- (ntrpm);
    \draw[isa] (ntrpsm) -- (recsyn);
    \draw[isa] (ntrpsm) -- (estplpsm);
    \draw[isa] (ntrpsm) -- (regpsmntr);
    \draw[isa] (regnatmtra) -- (regnatmtr);
    \draw[isa] (regnatmtra) -- (regmonoiontmtra);
    \draw[isa] (regktmtra) -- (regktmtr);
    \draw[isa] (regktmtra) -- (regmonoiontmtra);
    \draw[isa] (regsynplast) -- (regbq);
    \draw[isa] (regsynplast) -- (modcst);
    \draw[isa] (neurprojmorph) -- (pmbcpmorph);
    \draw[isa] (regneurprojdev) -- (regpmbcpo);
    \draw[isa] (dendev) -- (neurprojdev);
    \draw[isa] (cctxdev) -- (asdev);
    \draw[isa] (ntre2psm) -- (ntre2pm);
    \draw[isa] (ntre2psm) -- (ntrpsm);
    \draw[isa] (regkainate) -- (regcatchan);
    \draw[isa] (regkainate) -- (regnatmtra);
    \draw[isa] (regkainate) -- (regktmtra);
    \draw[isa] (regkainate) -- (regntra);
    \draw[isa] (regsynscal) -- (regsynplast);
    \draw[isa] (neurprojarb) -- (neurprojmorph);
    \draw[isa] (regdendev) -- (regneurprojdev);
    \draw[isa] (denmorph) -- (neurprojmorph);
    \draw[isa] (regneurprojarb) -- (regcpo);
    \draw[isa] (regneurprojarb) -- (regcellmorph);
    \draw[isa] (denarb) -- (neurprojarb);
    \draw[isa] (denarb) -- (denmorph);
    \draw[isa] (regdenmorph) -- (regdendev);
    \draw[isa] (regdenmorph) -- (regcellmorph);
    \draw[isa] (posregneurprojarb) -- (regneurprojarb);
    \draw[isa] (posregneurprojarb) -- (posregcpo);
    \draw[isa] (posregneurprojarb) -- (posregneurogen);
    \draw[isa] (posregdenmorph) -- (regdenmorph);
    \draw[isa] (posregdenmorph) -- (posregcpo);
    \draw[isa] (posregdenmorph) -- (posregcmid);

    \draw[reg] (regloc) -- (loc);
    \draw[reg] (regcellloc) -- (cellloc);
    \draw[reg] (regprotloc) -- (protloc);
    \draw[reg] (regmonoiontr) -- (monoiontr);
    \draw[reg] (regtmtr) -- (tmtr);
    \draw[reg] (regmonoiontmtr) -- (monoiontmtr);
    \draw[reg] (regmetaltr) -- (metaltr);
    \draw[reg] (regnatr) -- (natr);
    \draw[reg] (regktr) -- (ktr);
    \draw[reg] (regnatmtr) -- (natmtr);
    \draw[reg] (regktmtr) -- (ktmtr);
    \draw[reg] (regcattmtr) -- (cattmtr);
    \draw[reg] (regplcp) -- (plcp);
    \draw[reg] (regplmem) -- (plmem);
    \draw[reg] (regplpm) -- (plpm);
    \draw[reg] (regbp) -- (bp);
    \draw[reg] (regcp) -- (cellproc);
    \draw[reg] (regsig) -- (signaling);
    \draw[reg] (regcc) -- (cellcomm);
    \draw[reg] (regst) -- (sigtrans);
    \draw[reg] (regglursp) -- (glursp);
    \draw[reg] (regresp) -- (respstim);
    \draw[reg] (regcco) -- (cco);
    \draw[reg] (regtssig) -- (tssig);
    \draw[reg] (modcst) -- (cst);
    \draw[reg] (regdev) -- (devproc);
    \draw[reg] (regasmorph) -- (asmorph);
    \draw[reg] (regcellmorph) -- (cellmorph);
    \draw[reg] (regcelldiff) -- (celldiff);
    \draw[reg] (regcmid) -- (cmid);
    \draw[reg] (regpmbcpo) -- (pmbcpo);
    \draw[reg] (regneurprojdev) -- (neurprojdev);
    \draw[reg] (regdendev) -- (dendev);
    \draw[reg] (regdenmorph) -- (denmorph);
    \draw[reg] (regneurprojarb) -- (neurprojarb);
    \draw[reg] (regcpo) -- (cpo);
    \draw[reg] (regmcop) -- (mcop);
    \draw[reg] (regmcodev) -- (mcodev);
    \draw[reg] (regcelldev) -- (celldev);
    \draw[reg] (regnsdev) -- (nsdev);
    \draw[reg] (regneurogen) -- (neurogen);

    \draw[negreg] (negregtr) -- (transport);
    \draw[negreg] (negregmonoiontr) -- (monoiontr);
    \draw[negreg] (negregtmtr) -- (tmtr);
    \draw[negreg] (negregmonoiontmtr) -- (monoiontmtr);
    \draw[negreg] (negregbp) -- (bp);
    \draw[negreg] (negregcp) -- (cellproc);
    \draw[negreg] (negregsig) -- (signaling);
    \draw[negreg] (negregcc) -- (cellcomm);
    \draw[negreg] (negregst) -- (sigtrans);
    \draw[negreg] (negregglursp) -- (glursp);
    \draw[negreg] (negregresp) -- (respstim);

    \draw[posreg] (posregprotloc) -- (protloc);
    \draw[posreg] (posregplcp) -- (plcp);
    \draw[posreg] (posregplmem) -- (plmem);
    \draw[posreg] (posregplpm) -- (plpm);
    \draw[posreg] (posregcp) -- (cellproc);
    \draw[posreg] (posregbp) -- (bp);
    \draw[posreg] (posregcco) -- (cco);
    \draw[posreg] (posregdev) -- (devproc);
    \draw[posreg] (posregcelldiff) -- (celldiff);
    \draw[posreg] (posregcmid) -- (cmid);
    \draw[posreg] (posregcpo) -- (cpo);
    \draw[posreg] (posregneurprojarb) -- (neurprojarb);
    \draw[posreg] (posregdenmorph) -- (denmorph);
    \draw[posreg] (posregmcop) -- (mcop);
    \draw[posreg] (posregcelldev) -- (celldev);
    \draw[posreg] (posregnsdev) -- (nsdev);
    \draw[posreg] (posregneurogen) -- (neurogen);

    \draw[partof] (estloccell) -- (cellloc);
    \draw[partof] (intraprottr) -- (protloc);
    \draw[partof] (sigtrans) -- (signaling);
    \draw[partof] (sigtrans) -- (cellcomm);
    \draw[partof] (sigtrans) -- (cellresp);
    \draw[partof] (asmorph) -- (asdev);
    \draw[partof] (cpmorph) -- (cellmorph);
    \draw[partof] (celldev) -- (celldiff);
    \draw[partof] (cmid) -- (celldev);
    \draw[partof] (neurdiff) -- (genneur);
    \draw[partof] (neurdev) -- (neurdiff);
    \draw[partof] (neurprojdev) -- (neurdev);
    \draw[partof] (cmind) -- (neurdev);
    \draw[partof] (neurprojmorph) -- (neurprojdev);
    \draw[partof] (denmorph) -- (dendev);
    \draw[partof] (denmorph) -- (cmind);
    \draw[partof] (sysdev) -- (mcodev);
    \draw[partof] (neurogen) -- (nsdev);
    \draw[partof] (cnsdev) -- (nsdev);
    \draw[partof] (braindev) -- (cnsdev);
    \draw[partof] (braindev) -- (headdev);
    \draw[partof] (forebraindev) -- (braindev);
    \draw[partof] (telendev) -- (forebraindev);
    \draw[partof] (palliumdev) -- (telendev);
    \draw[partof] (cctxdev) -- (palliumdev);
    \end{pgfonlayer}

\end{tikzpicture}
\end{document}
